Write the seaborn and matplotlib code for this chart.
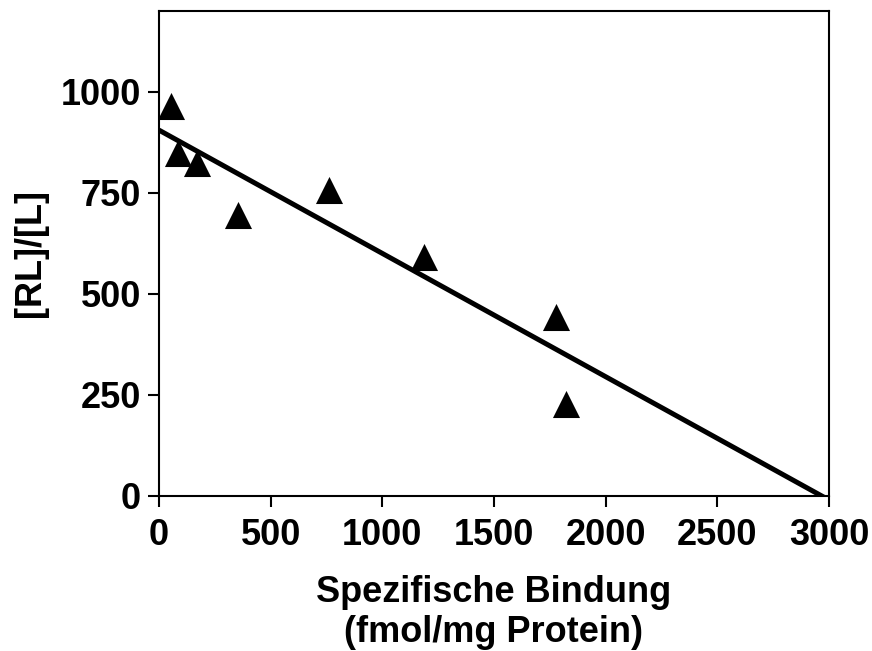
import matplotlib
matplotlib.use("Agg")
import matplotlib.pyplot as plt
import seaborn as sns
import pandas as pd

# Scatchard data: specific binding vs. bound/free ratio
bindung = [54, 86, 170, 352, 761, 1186, 1779, 1822]
rl_l = [964, 848, 823, 695, 757, 591, 443, 227]

x_ticks = [0, 500, 1000, 1500, 2000, 2500, 3000]
y_ticks = [0, 250, 500, 750, 1000]

df = pd.DataFrame({"bindung": bindung, "rl_l": rl_l})

sns.set_theme(style="ticks")
plt.rcParams["font.family"] = ["Liberation Sans", "DejaVu Sans"]
plt.rcParams["font.weight"] = "bold"
plt.rcParams["text.color"] = "black"
plt.rcParams["axes.labelcolor"] = "black"

fig = plt.figure(figsize=(8.72, 6.51), dpi=100)
ax = fig.add_axes([0.1823, 0.2381, 0.9507 - 0.1823, 0.9831 - 0.2381])
ax.set_xlim(0, 3000)
ax.set_ylim(0, 1200)

sns.regplot(data=df, x="bindung", y="rl_l", ax=ax, ci=None, truncate=False,
            marker="^", color="black",
            scatter_kws={"s": 380, "linewidths": 0, "alpha": 1, "zorder": 3},
            line_kws={"linewidth": 3.6, "solid_capstyle": "butt"})

ax.set_xlim(0, 3000)
ax.set_ylim(0, 1200)
ax.set_xticks(x_ticks)
ax.set_yticks(y_ticks)

for s in ax.spines.values():
    s.set_linewidth(1.5)
    s.set_color("black")

ax.tick_params(axis="both", which="major", direction="out", length=8, width=1.5,
               colors="black", labelsize=26)
ax.tick_params(axis="x", pad=8)
ax.tick_params(axis="y", pad=5)
for lab in ax.get_xticklabels() + ax.get_yticklabels():
    lab.set_fontweight("bold")

ax.set_xlabel("Spezifische Bindung\n(fmol/mg Protein)", fontsize=26, fontweight="bold",
              color="black", labelpad=16, linespacing=1.18)
ax.set_ylabel("[RL]/[L]", fontsize=26, fontweight="bold", color="black", labelpad=9)

fig.savefig("out.png", dpi=100)
